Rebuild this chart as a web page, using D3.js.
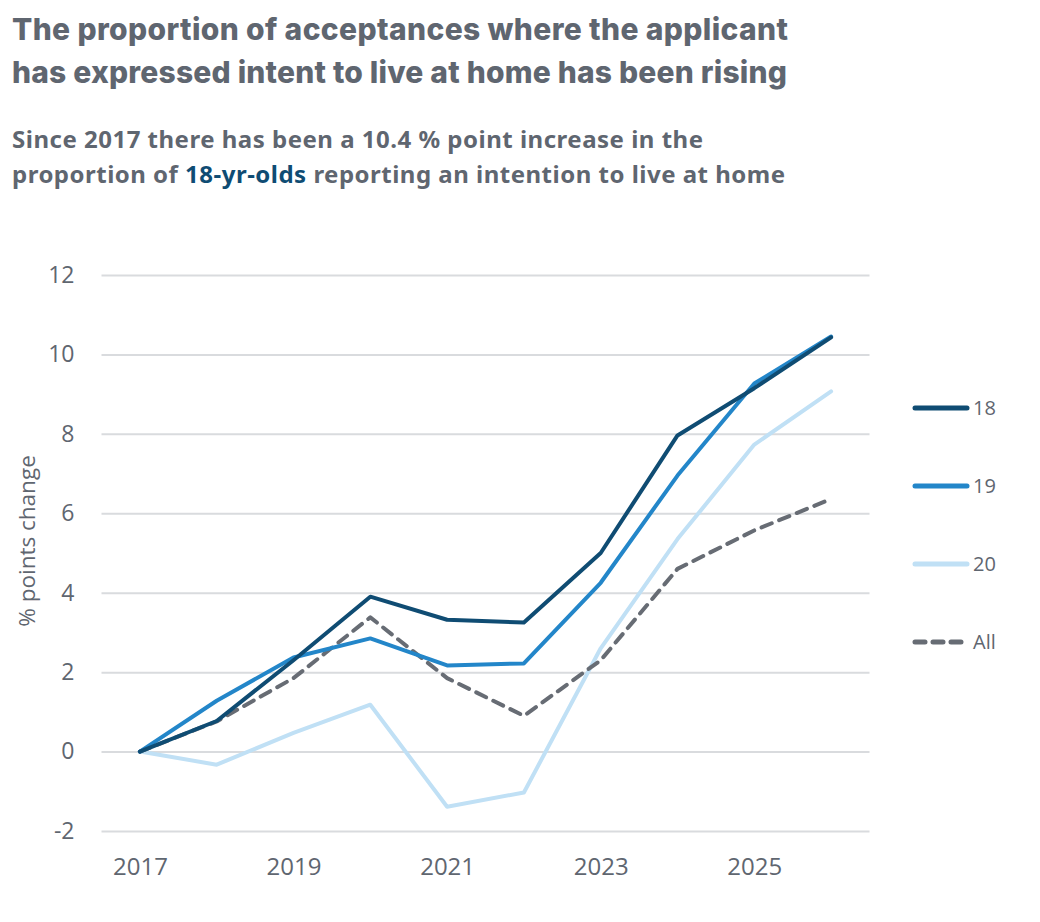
<!DOCTYPE html>
<html lang="en">
<head>
<meta charset="utf-8">
<title>Intent to live at home</title>
<script src="https://d3js.org/d3.v7.min.js"></script>
<style>
    body { margin: 0; background: #fff; }
    svg { display: block; }
</style>
</head>
<body>
<svg id="chart" width="1040" height="922"></svg>
<script>
// data
const years = [2017, 2018, 2019, 2020, 2021, 2022, 2023, 2024, 2025, 2026];
const age18 = [0, 0.77, 2.3, 3.9, 3.32, 3.25, 5.0, 7.96, 9.15, 10.43];
const age19 = [0, 1.28, 2.37, 2.85, 2.17, 2.22, 4.25, 6.95, 9.27, 10.45];
const age20 = [0, -0.33, 0.47, 1.18, -1.39, -1.03, 2.6, 5.35, 7.73, 9.07];
const ageAll = [0, 0.76, 1.85, 3.38, 1.85, 0.9, 2.3, 4.6, 5.57, 6.36];
const seriesNames = ["18", "19", "20", "All"];
const yTicks = [-2, 0, 2, 4, 6, 8, 10, 12];
const xTicks = [2017, 2019, 2021, 2023, 2025];

const textGrey = "#5f6670";
const colours = {"18": "#0f4c73", "19": "#2386c9", "20": "#c0e0f5", "All": "#676c74"};

const svg = d3.select("#chart");

// headings (line widths matched to the reference with textLength)
const title = svg.append("g").attr("font-family", "Inter, sans-serif")
    .attr("font-weight", 800).attr("font-size", 30).attr("fill", textGrey);
title.append("text").attr("x", 12).attr("y", 40)
    .attr("textLength", 776).attr("lengthAdjust", "spacing")
    .text("The proportion of acceptances where the applicant");
title.append("text").attr("x", 12).attr("y", 83)
    .attr("textLength", 775).attr("lengthAdjust", "spacing")
    .text("has expressed intent to live at home has been rising");

const sub = svg.append("g").attr("font-family", "'Noto Sans', sans-serif")
    .attr("font-weight", 700).attr("font-size", 24).attr("fill", textGrey);
sub.append("text").attr("x", 12).attr("y", 148)
    .attr("textLength", 691).attr("lengthAdjust", "spacing")
    .text("Since 2017 there has been a 10.4 % point increase in the");
let l2 = sub.append("text").attr("x", 12).attr("y", 183)
    .attr("textLength", 773).attr("lengthAdjust", "spacing");
l2.append("tspan").text("proportion of ");
l2.append("tspan").attr("fill", "#0f4c73").text("18-yr-olds");
l2.append("tspan").text(" reporting an intention to live at home");

// scales
const x = d3.scaleLinear().domain([2016.5, 2026.5]).range([101.5, 869.5]);
const y = d3.scaleLinear().domain([-2, 12]).range([831, 275]);

// gridlines + y labels
const yAxis = d3.axisLeft(y).tickValues(yTicks).tickFormat(d => String(d))
    .tickSize(-(x.range()[1] - x.range()[0])).tickPadding(27);
svg.append("g").attr("transform", "translate(" + x.range()[0] + ",0)")
    .call(yAxis)
    .call(g => g.select(".domain").remove())
    .call(g => g.selectAll(".tick line").attr("stroke", "#d9dbde").attr("stroke-width", 2))
    .call(g => g.selectAll(".tick text").attr("fill", textGrey)
        .attr("font-family", "'Open Sans', sans-serif").attr("font-size", 23));

const xAxis = d3.axisBottom(x).tickValues(xTicks).tickFormat(d3.format("d")).tickSize(0).tickPadding(27);
svg.append("g").attr("transform", "translate(0," + y(-2) + ")")
    .call(xAxis)
    .call(g => g.select(".domain").remove())
    .call(g => g.selectAll(".tick text").attr("fill", textGrey)
        .attr("font-family", "'Open Sans', sans-serif").attr("font-size", 24));

svg.append("text")
    .attr("transform", "translate(27,541) rotate(-90)")
    .attr("text-anchor", "middle")
    .attr("dy", "0.35em")
    .attr("font-family", "'Open Sans', sans-serif").attr("font-size", 22.5)
    .attr("fill", textGrey)
    .text("% points change");

// lines
const seriesData = {"18": age18, "19": age19, "20": age20, "All": ageAll};
const line = d3.line().x((d, i) => x(years[i])).y(d => y(d));
const drawOrder = ["20", "All", "19", "18"];
drawOrder.forEach(name => {
    svg.append("path")
        .datum(seriesData[name])
        .attr("d", line)
        .attr("fill", "none")
        .attr("stroke", colours[name])
        .attr("stroke-width", 4)
        .attr("stroke-linejoin", "round")
        .attr("stroke-linecap", "round")
        .attr("stroke-dasharray", name == "All" ? "11,8" : null);
});

// legend
const legend = svg.append("g").attr("font-family", "'Open Sans', sans-serif").attr("font-size", 20).attr("fill", textGrey);
seriesNames.forEach((name, i) => {
    let ly = 408 + i * 78;
    legend.append("line")
        .attr("x1", 915).attr("x2", 967).attr("y1", ly).attr("y2", ly)
        .attr("stroke", colours[name]).attr("stroke-width", 5)
        .attr("stroke-linecap", "round")
        .attr("stroke-dasharray", name == "All" ? "10,8" : null);
    legend.append("text").attr("x", 973).attr("y", ly).attr("dy", "0.35em").text(name);
});
</script>
</body>
</html>
